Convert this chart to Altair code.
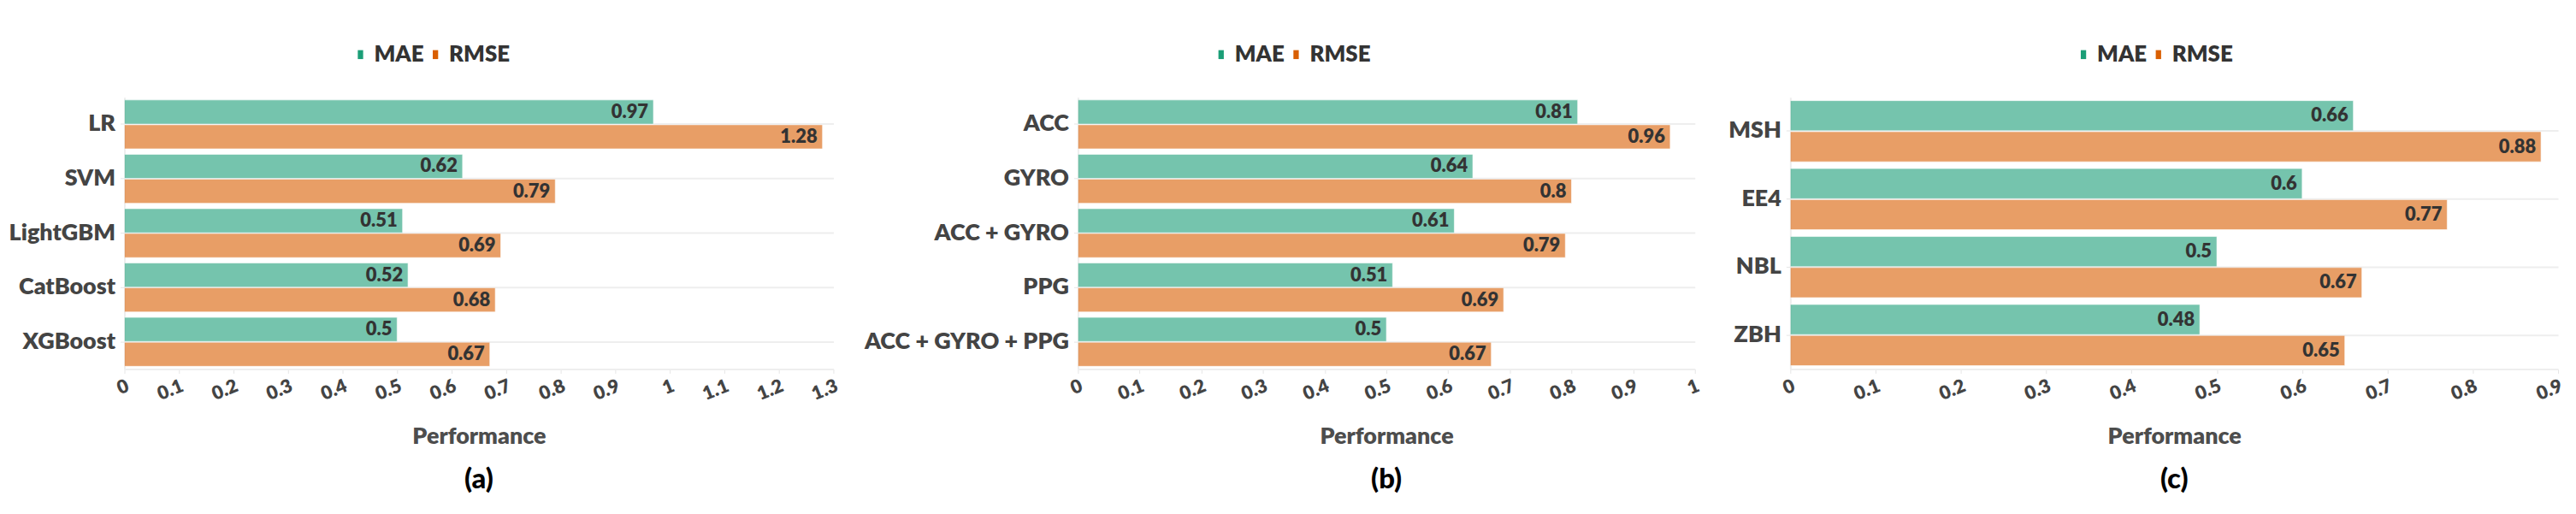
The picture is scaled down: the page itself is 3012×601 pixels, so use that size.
import altair as alt
import pandas as pd

# Panel (a)
cats_a = ["LR", "SVM", "LightGBM", "CatBoost", "XGBoost"]
mae_a = [0.97, 0.62, 0.51, 0.52, 0.5]
rmse_a = [1.28, 0.79, 0.69, 0.68, 0.67]
ticks_a = [0, 0.1, 0.2, 0.3, 0.4, 0.5, 0.6, 0.7, 0.8, 0.9, 1, 1.1, 1.2, 1.3]

# Panel (b)
cats_b = ["ACC", "GYRO", "ACC + GYRO", "PPG", "ACC + GYRO + PPG"]
mae_b = [0.81, 0.64, 0.61, 0.51, 0.5]
rmse_b = [0.96, 0.8, 0.79, 0.69, 0.67]
ticks_b = [0, 0.1, 0.2, 0.3, 0.4, 0.5, 0.6, 0.7, 0.8, 0.9, 1]

# Panel (c)
cats_c = ["MSH", "EE4", "NBL", "ZBH"]
mae_c = [0.66, 0.6, 0.5, 0.48]
rmse_c = [0.88, 0.77, 0.67, 0.65]
ticks_c = [0, 0.1, 0.2, 0.3, 0.4, 0.5, 0.6, 0.7, 0.8, 0.9]

metrics = ["MAE", "RMSE"]
colors = ["#1b9e77", "#d95f02"]
FONT = "Lato"
W = 800
PLOT_H = 319


def panel(cats, mae, rmse, ticks, width, extent, legend_x, label):
    rows = []
    for c, m, r in zip(cats, mae, rmse):
        rows.append({"cat": c, "metric": "MAE", "value": m, "label": str(m)})
        rows.append({"cat": c, "metric": "RMSE", "value": r, "label": str(r)})
    df = pd.DataFrame(rows)

    base = alt.Chart(df).encode(
        y=alt.Y(
            "cat:N",
            sort=cats,
            scale=alt.Scale(paddingInner=0.1, paddingOuter=0.05),
            axis=alt.Axis(
                title=None,
                labelFont=FONT,
                labelFontSize=27,
                labelFontWeight=W,
                labelColor="#444444",
                labelPadding=6,
                tickColor="#e6e6e6",
                tickSize=5,
                domainColor="#eeeeee",
                domainWidth=2,
                grid=True,
                gridColor="#eeeeee",
                gridWidth=2,
                bandPosition=0.5,
                minExtent=extent,
                maxExtent=extent,
                labelLimit=400,
            ),
        ),
        yOffset=alt.YOffset("metric:N", sort=metrics, scale=alt.Scale(paddingInner=0.03)),
        x=alt.X(
            "value:Q",
            scale=alt.Scale(domain=[ticks[0], ticks[-1]], nice=False),
            axis=alt.Axis(
                title="Performance",
                values=ticks,
                format="~g",
                labelAngle=-22,
                labelFont=FONT,
                labelFontSize=22,
                labelFontWeight=W,
                labelColor="#444444",
                labelPadding=4,
                tickColor="#e6e6e6",
                tickSize=5,
                domainColor="#eeeeee",
                domainWidth=2,
                grid=False,
                titleFont=FONT,
                titleFontSize=27,
                titleFontWeight=W,
                titleColor="#4d4d4d",
                titlePadding=26,
            ),
        ),
    )

    bars = base.mark_bar(opacity=0.6, stroke="white", strokeWidth=1, strokeOpacity=0.6).encode(
        color=alt.Color(
            "metric:N",
            scale=alt.Scale(domain=metrics, range=colors),
            legend=alt.Legend(
                title=None,
                orient="none",
                legendX=legend_x,
                legendY=-63,
                direction="horizontal",
                labelFont=FONT,
                labelFontSize=26,
                labelFontWeight=W,
                labelColor="#333333",
                symbolType="M-0.6,-1L0.6,-1L0.6,1L-0.6,1Z",
                symbolSize=110,
                symbolOpacity=1,
                symbolStrokeWidth=0,
                columnPadding=0,
                labelOffset=3,
                padding=0,
            ),
        )
    )

    text = base.mark_text(
        align="right",
        baseline="middle",
        dx=-6,
        font=FONT,
        fontSize=22,
        fontWeight=W,
        color="#333333",
    ).encode(text="label:N")

    return alt.layer(bars, text).properties(
        width=width,
        height=PLOT_H,
        title=alt.TitleParams(
            label,
            orient="bottom",
            anchor="middle",
            font=FONT,
            fontSize=33,
            fontWeight=900,
            color="#000000",
            offset=22,
        ),
    )


pa = panel(cats_a, mae_a, rmse_a, ticks_a, 832, 138, 264, "(a)")
pb = panel(cats_b, mae_b, rmse_b, ticks_b, 724, 255, 155, "(b)")
pc = panel(cats_c, mae_c, rmse_c, ticks_c, 901, 80, 331, "(c)")

chart = (
    alt.hconcat(pa, pb, pc, spacing=24)
    .resolve_scale(x="independent", y="independent", color="independent", yOffset="independent")
    .resolve_legend(color="independent")
    .properties(padding={"top": 42, "left": 0, "right": 5, "bottom": 5})
    .configure_view(stroke=None)
)

chart.save("out.html", embed_options={"renderer": "svg", "actions": False})
